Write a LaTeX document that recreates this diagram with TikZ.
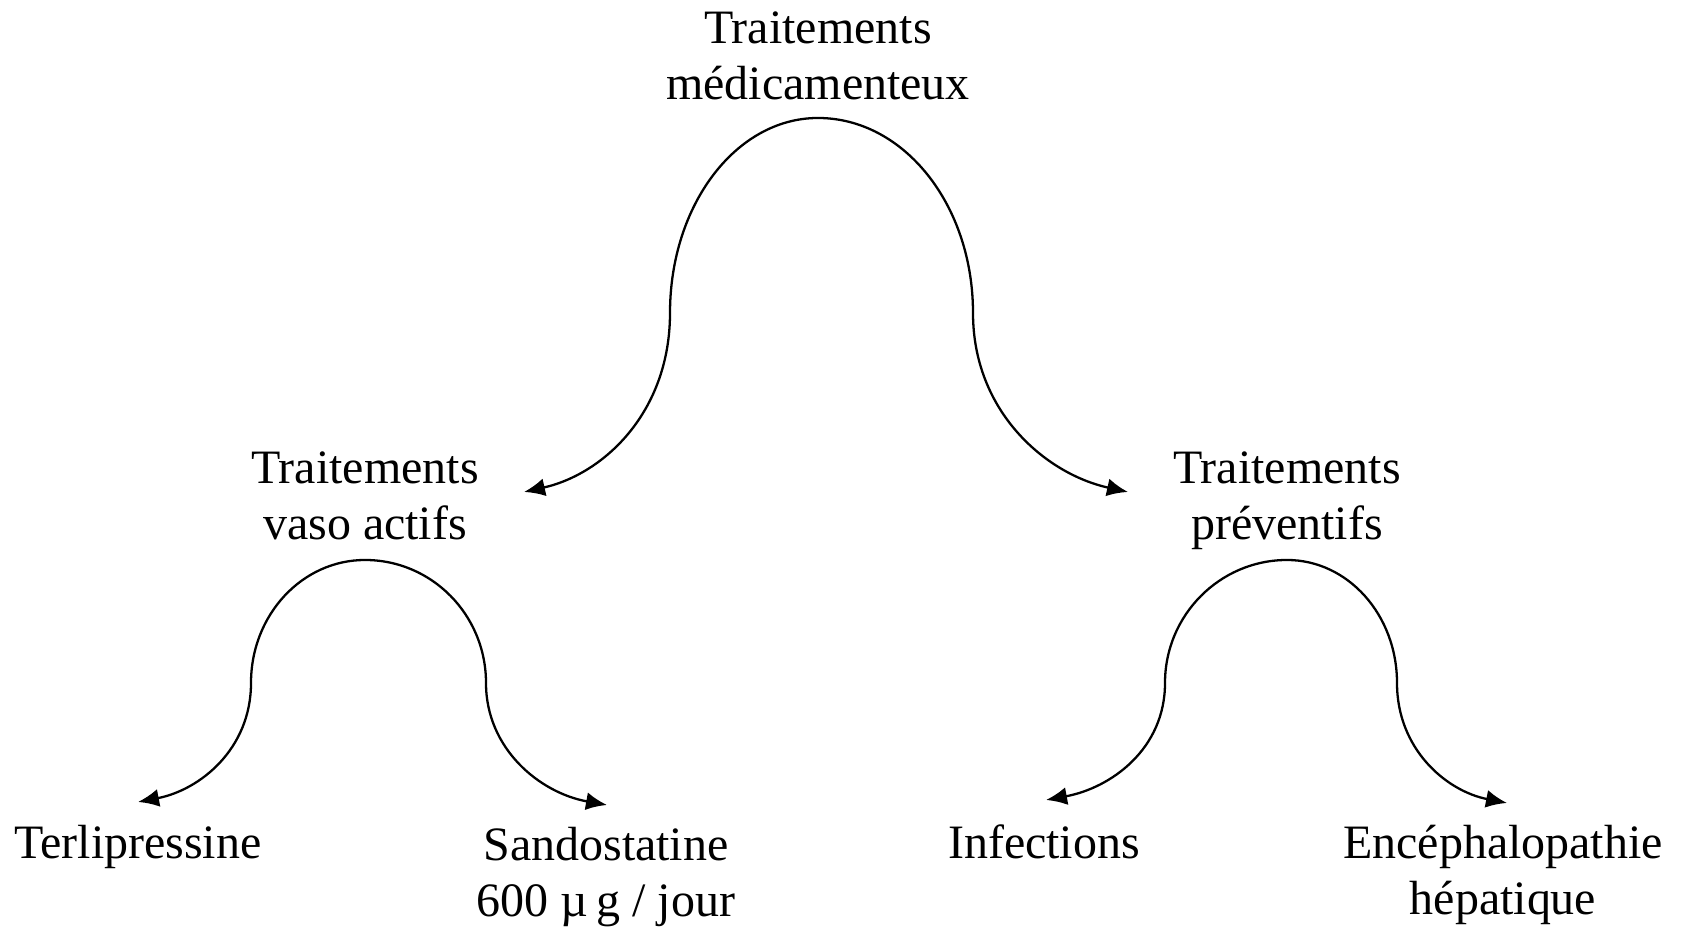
\documentclass[tikz,border=0pt]{standalone}
\usepackage{fontspec}
\setmainfont{Liberation Serif}
\usetikzlibrary{arrows.meta}
\begin{document}
\begin{tikzpicture}[x=0.02cm,y=0.02cm,
  lbl/.style={inner sep=0pt,anchor=base,align=center,font=\fontsize{27.3}{32.4}\selectfont},
  arr/.style={line width=1.3pt,{Latex[length=0.42cm,width=0.36cm]}-{Latex[length=0.42cm,width=0.36cm]}}]
\useasboundingbox (0,0) rectangle (1684,928);
% labels (anchor = baseline of last line)
\node[lbl] (top) at (818,828) {Traitements\\médicamenteux};
\node[lbl] (vaso) at (365,388) {Traitements\\vaso actifs};
\node[lbl] (prev) at (1287,388) {Traitements\\préventifs};
\node[lbl] (terl) at (138,69) {Terlipressine};
\node[lbl] (sand) at (606,11) {Sandostatine\\600 µ\,g / jour};
\node[lbl] (inf) at (1044,69) {Infections};
\node[lbl] (ence) at (1503,13) {Encéphalopathie\\hépatique};
% curve end points
\coordinate (TL) at (524,436);
\coordinate (TR) at (1128,436);
\coordinate (TL2) at (138,126);
\coordinate (TR2) at (607,123);
\coordinate (TL3) at (1046,128);
\coordinate (TR3) at (1507,125);
% top curve
\draw[arr] (TL) .. controls (604,454) and (670,516) .. (670,615)
  .. controls (670,723) and (736,810) .. (818,810)
  .. controls (904,810) and (973,723) .. (973,615)
  .. controls (973,516) and (1046,454) .. (TR);
% left curve
\draw[arr] (TL2) .. controls (200,138) and (251,179) .. (251,245)
  .. controls (251,313) and (302,368) .. (365,368)
  .. controls (432,368) and (486,313) .. (486,245)
  .. controls (486,179) and (540,135) .. (TR2);
% right curve
\draw[arr] (TL3) .. controls (1111,140) and (1165,179) .. (1165,245)
  .. controls (1165,313) and (1220,368) .. (1287,368)
  .. controls (1348,368) and (1397,313) .. (1397,245)
  .. controls (1397,179) and (1446,137) .. (TR3);
\end{tikzpicture}
\end{document}
